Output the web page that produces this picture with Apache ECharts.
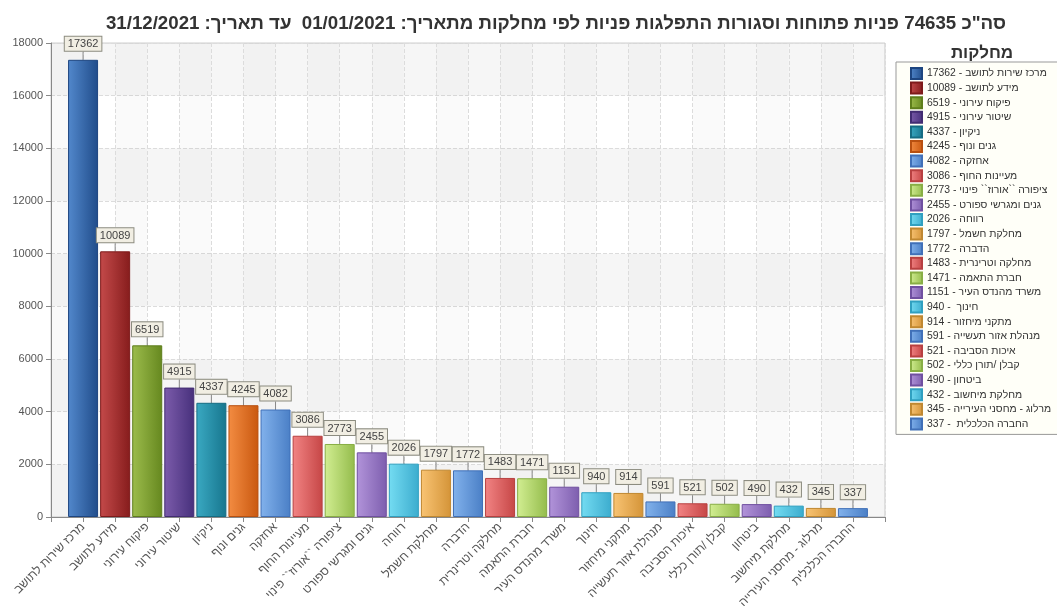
<!DOCTYPE html>
<html>
<head>
<meta charset="utf-8">
<script src="https://cdn.jsdelivr.net/npm/echarts@6/dist/echarts.min.js"></script>
<style>
  html, body { margin: 0; padding: 0; background: #fff; }
  #mainChart { width: 1057px; height: 606px; }
</style>
</head>
<body>
<div id="mainChart" dir="rtl"></div>
<script>
// מחלקות - שם המחלקה
const departments = [
  "מרכז שירות לתושב", "מידע לתושב", "פיקוח עירוני", "שיטור עירוני", "ניקיון",
  "גנים ונוף", "אחזקה", "מעיינות החוף", "ציפורה ``אורוז`` פינוי", "גנים ומגרשי ספורט",
  "רווחה", "מחלקת חשמל", "הדברה", "מחלקה וטרינרית", "חברת התאמה",
  "משרד מהנדס העיר", "חינוך ", "מתקני מיחזור", "מנהלת אזור תעשייה", "איכות הסביבה",
  "קבלן /תורן כללי", "ביטחון", "מחלקת מיחשוב", "מרלוג - מחסני העירייה", "החברה הכלכלית "
];
// מספר פניות
const requests = [
  17362, 10089, 6519, 4915, 4337,
  4245, 4082, 3086, 2773, 2455,
  2026, 1797, 1772, 1483, 1471,
  1151, 940, 914, 591, 521,
  502, 490, 432, 345, 337
];
const yTicks = { min: 0, max: 18000, interval: 2000 };

// צבעים: בהיר משמאל, כהה מימין
const palette = [
  ["#5288cc", "#204c8a"], ["#c44a4a", "#861c1c"], ["#9cbc4c", "#66881f"],
  ["#7c5cab", "#47307c"], ["#3aa9c2", "#17768e"], ["#f38c42", "#c9580f"],
  ["#82b2ec", "#4a7fc6"], ["#f28484", "#c64646"], ["#d2ee92", "#94bc4c"],
  ["#b294da", "#7d5eae"], ["#74dcf2", "#3cacce"], ["#f9c474", "#d49438"]
];
const paletteIdx = (i) => (i < 12 ? i : 6 + ((i - 12) % 6));
const borders = ["#1d4580", "#7e1a1a", "#5e7e1c", "#422c72", "#156c82", "#b85010",
                 "#4070b8", "#b84040", "#88ae44", "#7050a0", "#30a0c0", "#c08830"];

const myChart = echarts.init(document.getElementById("mainChart"));

const FONT = "'Liberation Sans', Arial, sans-serif";
const categories = [""].concat(departments, [""]);

const series = departments.map(function (name, i) {
  const data = categories.map(() => null);
  data[i + 1] = requests[i];
  const c = palette[paletteIdx(i)];
  return {
    name: name,
    type: "bar",
    stack: "all",
    barWidth: 30,
    data: data,
    itemStyle: {
      color: new echarts.graphic.LinearGradient(0, 0, 1, 0, [
        { offset: 0, color: c[0] },
        { offset: 1, color: c[1] }
      ]),
      borderColor: borders[paletteIdx(i)],
      borderWidth: 1
    },
    label: {
      show: true,
      position: "top",
      distance: 0,
      fontFamily: FONT,
      fontSize: 11,
      color: "#444",
      backgroundColor: "#f1eee3",
      borderColor: "#8c8c80",
      borderWidth: 1,
      padding: [2, 3, 1, 3]
    },
    labelLayout: { dy: -9 },
    labelLine: { show: true, lineStyle: { color: "#888", width: 1 } },
    emphasis: { disabled: true }
  };
});

let option = {
  animation: false,
  title: [
    {
      text: 'סה"כ 74635 פניות פתוחות וסגורות התפלגות פניות לפי מחלקות מתאריך: 01/01/2021  עד תאריך: 31/12/2021',
      left: 551,
      top: 9,
      textAlign: "center",
      textStyle: { fontFamily: FONT, fontSize: 18.7, fontWeight: "bold", color: "#333" }
    },
    {
      text: "מחלקות",
      left: 977,
      top: 40,
      textAlign: "center",
      textStyle: { fontFamily: FONT, fontSize: 17, fontWeight: "bold", color: "#333" }
    }
  ],
  legend: {
    orient: "vertical",
    left: 896,
    top: 62,
    padding: [5, 60, 4, 14],
    icon: "rect",
    itemWidth: 11,
    itemHeight: 11,
    itemGap: 1.6,
    backgroundColor: "#fffff8",
    borderColor: "#999",
    borderWidth: 1,
    selectedMode: false,
    textStyle: { fontFamily: FONT, fontSize: 10.4, color: "#333" },
    formatter: function (name) {
      return name + " - " + requests[departments.indexOf(name)];
    },
    data: departments
  },
  grid: {
    left: 51,
    top: 43,
    right: 172,
    bottom: 89,
    outerBoundsMode: "none",
    show: true,
    borderColor: "#cfcfcf",
    borderWidth: 1
  },
  xAxis: {
    type: "category",
    boundaryGap: false,
    data: categories,
    axisLine: { lineStyle: { color: "#888" } },
    axisTick: { show: true, interval: 0, length: 5, lineStyle: { color: "#888" } },
    axisLabel: {
      interval: 0,
      rotate: 45,
      margin: 8,
      fontFamily: FONT,
      fontSize: 12,
      color: "#555"
    },
    splitLine: { show: true, interval: 0, lineStyle: { color: "#dcdcdc", type: "dashed" } },
    splitArea: { show: true, interval: 0, areaStyle: { color: ["rgba(0,0,0,0.018)", "rgba(0,0,0,0)"] } }
  },
  yAxis: {
    type: "value",
    min: yTicks.min,
    max: yTicks.max,
    interval: yTicks.interval,
    axisLine: { show: true, lineStyle: { color: "#888" } },
    axisTick: { show: true, length: 5, lineStyle: { color: "#888" } },
    axisLabel: {
      fontFamily: FONT, fontSize: 11, color: "#555", margin: 8,
      formatter: (v) => String(v)
    },
    splitLine: { show: true, lineStyle: { color: "#dcdcdc", type: "dashed" } },
    splitArea: { show: true, areaStyle: { color: ["rgba(0,0,0,0.035)", "rgba(0,0,0,0)"] } }
  },
  series: series
};

myChart.setOption(option);
</script>
</body>
</html>
